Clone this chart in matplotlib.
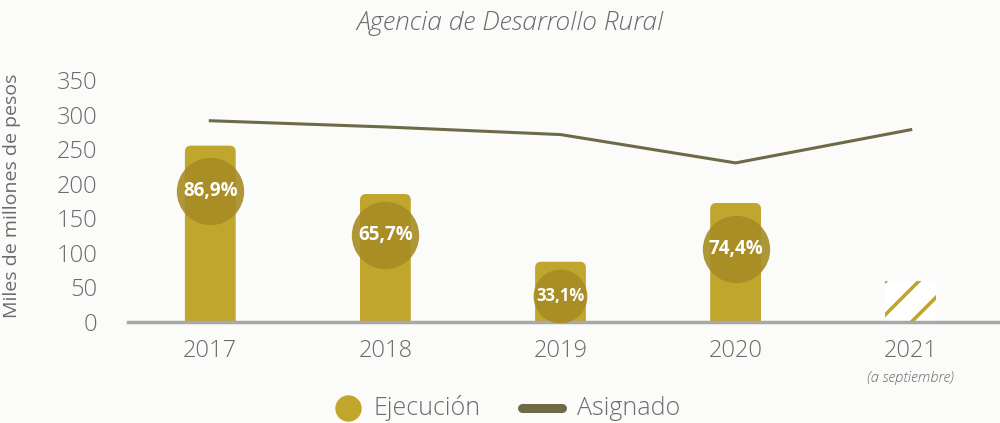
import matplotlib
matplotlib.use("Agg")
import matplotlib.pyplot as plt
from matplotlib.patches import FancyBboxPatch
from matplotlib.lines import Line2D

# datos (miles de millones de pesos)
years = ["2017", "2018", "2019", "2020", "2021"]
ejecucion = [255, 185, 87, 172, 59]
asignado = [291, 282, 271, 230, 278]
pct_labels = ["86,9%", "65,7%", "33,1%", "74,4%"]
pct_label_y = [190, 126, 38, 106]

GOLD = "#C0A62C"
DARK_GOLD = "#A68C24"
LINE = "#6E6A47"
TXT = "#6b6b6b"
BG = "#FBFBFA"

plt.rcParams["font.family"] = ["Open Sans", "DejaVu Sans"]
plt.rcParams["font.weight"] = "light"
plt.rcParams["hatch.linewidth"] = 2.6

fig = plt.figure(figsize=(10, 4.23), dpi=100, facecolor=BG)
ax = fig.add_axes([0.128, 0.239, 0.872, 0.572], facecolor=BG)

x = list(range(len(years)))
w = 0.29
bars = ax.bar(x, ejecucion, width=w, color=GOLD)
# barras con esquinas redondeadas
for i, b in enumerate(bars):
    b.set_visible(False)
    if i == len(years) - 1:
        p = FancyBboxPatch((b.get_x(), 0), w, b.get_height(),
                           boxstyle="square,pad=0", facecolor="white",
                           edgecolor=GOLD, linewidth=0, hatch="/")
    else:
        p = FancyBboxPatch((b.get_x(), -20), w, b.get_height() + 20,
                           boxstyle="round,pad=0,rounding_size=0.035",
                           mutation_aspect=250, facecolor=GOLD, linewidth=0)
    ax.add_patch(p)

ax.plot(x, asignado, color=LINE, lw=2.2, zorder=3)

for i, (lab, yy) in enumerate(zip(pct_labels, pct_label_y)):
    small = ejecucion[i] < 100
    ax.scatter(i, yy, s=1500 if small else 2350, color=DARK_GOLD,
               alpha=0.9, zorder=4, linewidths=0)
    ax.text(i, yy, lab, ha="center", va="center", color="white",
            fontsize=12 if small else 13.5, fontweight="bold", zorder=5)

ax.set_xlim(-0.47, 4.51)
ax.set_ylim(0, 350)
ax.set_yticks(range(0, 351, 50))
ax.set_xticks(x)
ax.set_xticklabels(years)
ax.tick_params(axis="both", length=0, labelsize=17, colors=TXT)
ax.tick_params(axis="y", pad=22)
ax.tick_params(axis="x", pad=12)
for s in ["top", "right", "left"]:
    ax.spines[s].set_visible(False)
ax.spines["bottom"].set_color("#a8a8a8")
ax.spines["bottom"].set_linewidth(2.5)
ax.set_ylabel("Miles de millones de pesos", fontsize=14, color=TXT)
ax.yaxis.set_label_coords(-0.123, 0.52)

ax.text(4, -0.23, "(a septiembre)", transform=ax.get_xaxis_transform(),
        ha="center", va="center", fontsize=10.5, style="italic", color=TXT)

fig.text(0.51, 0.945, "Agencia de Desarrollo Rural", ha="center", va="center",
         fontsize=19, style="italic", color=TXT)

# leyenda
ly = 15 / 423
fig.add_artist(Line2D([0.348], [ly], transform=fig.transFigure, marker="o",
                      markersize=19, markerfacecolor=GOLD, markeredgewidth=0,
                      linestyle="none"))
fig.text(0.373, ly, "Ejecución", ha="left", va="center", fontsize=18, color=TXT)
fig.add_artist(Line2D([0.522, 0.562], [ly, ly], transform=fig.transFigure,
                      color=LINE, lw=6.5, solid_capstyle="round"))
fig.text(0.577, ly, "Asignado", ha="left", va="center", fontsize=18, color=TXT)

fig.savefig("out.png", dpi=100, facecolor=BG)
